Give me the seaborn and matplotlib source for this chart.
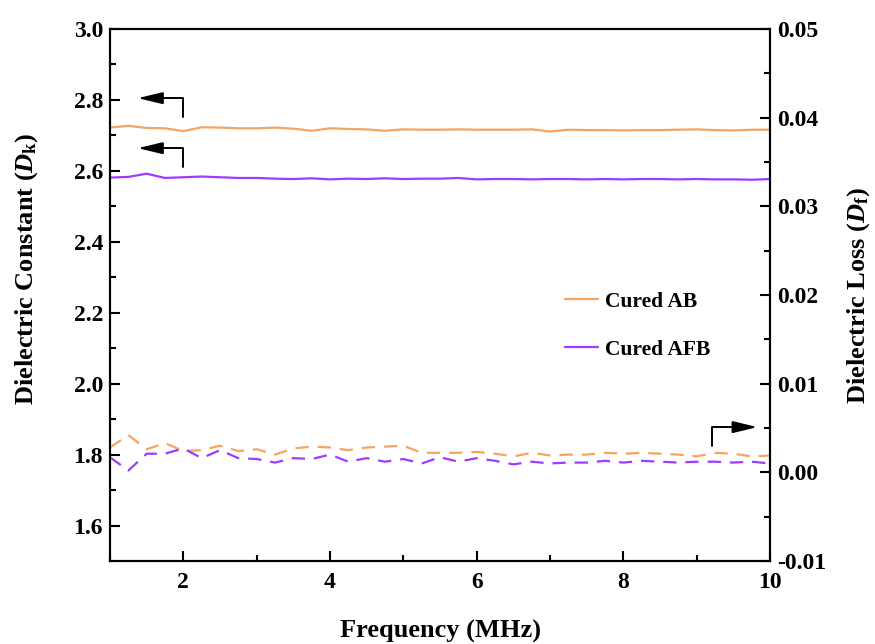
import pandas as pd
import numpy as np
import matplotlib
matplotlib.use("Agg")
import matplotlib.pyplot as plt
import seaborn as sns
from matplotlib.ticker import MultipleLocator

# DATA:
freq = [1.00, 1.25, 1.50, 1.75, 2.00, 2.25, 2.50, 2.75, 3.00, 3.25, 3.50, 3.75,
        4.00, 4.25, 4.50, 4.75, 5.00, 5.25, 5.50, 5.75, 6.00, 6.25, 6.50, 6.75,
        7.00, 7.25, 7.50, 7.75, 8.00, 8.25, 8.50, 8.75, 9.00, 9.25, 9.50, 9.75, 10.00]

dk_ab = [2.722, 2.727, 2.721, 2.720, 2.712, 2.723, 2.722, 2.720, 2.720, 2.722, 2.719, 2.713,
         2.720, 2.718, 2.717, 2.713, 2.717, 2.716, 2.716, 2.717, 2.716, 2.716, 2.716, 2.717,
         2.711, 2.716, 2.715, 2.715, 2.714, 2.715, 2.715, 2.716, 2.717, 2.715, 2.714, 2.716, 2.716]

dk_afb = [2.581, 2.583, 2.592, 2.580, 2.582, 2.584, 2.582, 2.580, 2.580, 2.578, 2.577, 2.579,
          2.576, 2.578, 2.577, 2.579, 2.577, 2.578, 2.578, 2.580, 2.576, 2.577, 2.577, 2.576,
          2.577, 2.577, 2.576, 2.577, 2.576, 2.577, 2.577, 2.576, 2.577, 2.576, 2.576, 2.575, 2.577]

df_ab = [0.0028, 0.0042, 0.0026, 0.0033, 0.0024, 0.0025, 0.0030, 0.0024, 0.0026, 0.0020, 0.0027, 0.0029,
         0.0028, 0.0025, 0.0028, 0.0029, 0.0030, 0.0022, 0.0022, 0.0022, 0.0023, 0.0021, 0.0018, 0.0022,
         0.0019, 0.0020, 0.0020, 0.0022, 0.0021, 0.0022, 0.0021, 0.0020, 0.0018, 0.0022, 0.0021, 0.0018, 0.0019]

df_afb = [0.0017, 0.0002, 0.0021, 0.0021, 0.0027, 0.0016, 0.0025, 0.0016, 0.0015, 0.0011, 0.0016, 0.0015,
          0.0020, 0.0012, 0.0016, 0.0012, 0.0015, 0.0010, 0.0017, 0.0012, 0.0016, 0.0013, 0.0009, 0.0012,
          0.0010, 0.0011, 0.0011, 0.0013, 0.0011, 0.0013, 0.0012, 0.0011, 0.0012, 0.0012, 0.0011, 0.0012, 0.0010]

df = pd.DataFrame({'freq': freq, 'dk_ab': dk_ab, 'dk_afb': dk_afb,
                   'df_ab': df_ab, 'df_afb': df_afb})

c_ab = '#F5A462'
c_afb = '#9E3BFF'

sns.set_style('ticks')
plt.rcParams['font.family'] = ['Liberation Serif', 'DejaVu Serif']
plt.rcParams['font.weight'] = 'bold'
plt.rcParams['text.color'] = 'black'
plt.rcParams['axes.labelcolor'] = 'black'
plt.rcParams['axes.edgecolor'] = 'black'
plt.rcParams['xtick.color'] = 'black'
plt.rcParams['ytick.color'] = 'black'
plt.rcParams['mathtext.fontset'] = 'custom'
plt.rcParams['mathtext.rm'] = 'Liberation Serif:bold'
plt.rcParams['mathtext.it'] = 'Liberation Serif:italic:bold'
plt.rcParams['mathtext.bf'] = 'Liberation Serif:bold'

fig = plt.figure(figsize=(8.75, 6.44), dpi=100)
ax = fig.add_axes([110/875, 83/644, 660/875, 532/644])
ax2 = ax.twinx()

sns.lineplot(x='freq', y='dk_ab', data=df, ax=ax, color=c_ab, lw=1.6, label='Cured AB')
sns.lineplot(x='freq', y='dk_afb', data=df, ax=ax, color=c_afb, lw=1.6, label='Cured AFB')
sns.lineplot(x='freq', y='df_ab', data=df, ax=ax2, color=c_ab, lw=1.6, dashes=False, legend=False)
sns.lineplot(x='freq', y='df_afb', data=df, ax=ax2, color=c_afb, lw=1.6, dashes=False, legend=False)
for ln in ax2.get_lines():
    ln.set_dashes((6, 4))

ax.set_xlim(1, 10)
ax.set_ylim(1.5, 3.0)
ax2.set_ylim(-0.01, 0.05)

ax.xaxis.set_major_locator(MultipleLocator(2))
ax.xaxis.set_minor_locator(MultipleLocator(1))
ax.yaxis.set_major_locator(MultipleLocator(0.2))
ax.yaxis.set_minor_locator(MultipleLocator(0.1))
ax2.yaxis.set_major_locator(MultipleLocator(0.01))
ax2.yaxis.set_minor_locator(MultipleLocator(0.005))
ax.yaxis.set_major_formatter(matplotlib.ticker.FormatStrFormatter('%.1f'))
ax2.yaxis.set_major_formatter(matplotlib.ticker.FormatStrFormatter('%.2f'))

for a in (ax, ax2):
    a.tick_params(which='major', direction='in', length=7, width=1.5, labelsize=17, pad=5)
    a.tick_params(which='minor', direction='in', length=4, width=1.5)
    for s in a.spines.values():
        s.set_linewidth(1.5)
        s.set_color('black')
ax.tick_params(axis='x', which='major', pad=8)

ax.set_xlabel('Frequency (MHz)', fontsize=19, fontweight='bold', labelpad=19)
ax.set_ylabel(r'Dielectric Constant ($D_\mathrm{k}$)', fontsize=19, fontweight='bold', labelpad=24)
ax.yaxis.label.set_y(0.55)
ax2.set_ylabel(r'Dielectric Loss ($D_\mathrm{f}$)', fontsize=19, fontweight='bold', labelpad=14)

# ARROWS:
arrow = dict(arrowstyle='-|>,head_length=0.75,head_width=0.18', color='black', lw=1.4,
             connectionstyle='angle,angleA=90,angleB=0,rad=0', shrinkA=0, shrinkB=0,
             mutation_scale=20)
ax.annotate('', xy=(1.38, 2.805), xytext=(2.0, 2.752), arrowprops=arrow)
ax.annotate('', xy=(1.38, 2.664), xytext=(2.0, 2.611), arrowprops=arrow)
ax2.annotate('', xy=(9.83, 0.0051), xytext=(9.21, 0.0030), arrowprops=arrow)

leg = ax.legend(loc='upper left', bbox_to_anchor=(0.66, 0.543), frameon=False,
                fontsize=15.5, labelspacing=1.3, handlelength=1.55, handletextpad=0.3)
for t in leg.get_texts():
    t.set_fontweight('bold')
    t.set_color('black')

plt.savefig('out.png', dpi=100)
